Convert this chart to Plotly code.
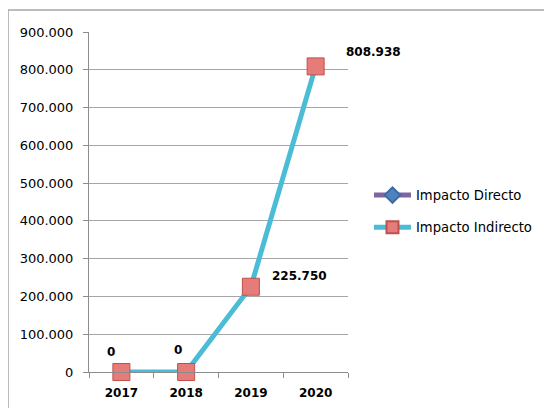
import plotly.graph_objects as go

years = ["2017", "2018", "2019", "2020"]
impacto_directo = [None, None, None, None]
impacto_indirecto = [0, 0, 225750, 808938]
# label offsets (px) relative to each point
label_dx = [-10, -8, 19, 28]
label_dy = [20, 22, 11, 14]


def fmt(v):
    return f"{v:,}".replace(",", ".")


FONT = "DejaVu Sans"

fig = go.Figure()
fig.add_trace(go.Scatter(
    x=years, y=impacto_directo, name="Impacto Directo", mode="lines+markers",
    legendgroup="a",
    line=dict(color="#8064A2", width=5),
    marker=dict(symbol="diamond", size=10, color="#4F81BD", line=dict(color="#3A6AA8", width=1)),
))
fig.add_trace(go.Scatter(
    x=years, y=impacto_indirecto, name="Impacto Indirecto", mode="lines+markers",
    legendgroup="b", cliponaxis=False,
    line=dict(color="#4BBCD6", width=5),
    marker=dict(symbol="square", size=17, color="#E57C7A", line=dict(color="#C0504D", width=1)),
))

# category axis: annotations use the category index
for i, (y, dx, dy) in enumerate(zip(impacto_indirecto, label_dx, label_dy)):
    fig.add_annotation(
        x=i, y=y, text=fmt(y), showarrow=False,
        xanchor="center" if dx < 0 else "left", yanchor="middle",
        xshift=dx, yshift=dy,
        font=dict(family=FONT, size=12, color="#000000", weight="bold"),
    )

fig.update_layout(
    width=552, height=408,
    separators=",.",
    paper_bgcolor="#ffffff", plot_bgcolor="#ffffff",
    margin=dict(l=81, r=212, t=24, b=44),
    font=dict(family=FONT, size=13, color="#000000"),
    showlegend=True,
    legend=dict(x=1.081, y=0.472, xanchor="left", yanchor="middle",
                font=dict(size=13.2), itemwidth=37, tracegroupgap=12,
                itemsizing="constant", bgcolor="rgba(0,0,0,0)"),
    shapes=[dict(type="rect", xref="paper", yref="paper",
                 x0=-0.3127, x1=1.78, y0=-0.2, y1=1.0647,
                 line=dict(color="#A6A6A6", width=1.5), layer="below")],
)
fig.update_xaxes(type="category", range=[-0.5, len(years) - 0.5],
                 showline=True, linecolor="#8C8C8C", linewidth=1,
                 ticks="outside", tickson="boundaries", ticklen=5, tickcolor="#8C8C8C",
                 tickfont=dict(size=12, family=FONT, color="#000000", weight="bold"),
                 ticklabelstandoff=10, showgrid=False)
fig.update_yaxes(range=[0, 900000], dtick=100000, tickformat=",d",
                 showline=True, linecolor="#8C8C8C", linewidth=1,
                 ticks="outside", ticklen=5, tickcolor="#8C8C8C",
                 tickfont=dict(size=13, family=FONT, color="#000000"),
                 ticklabelstandoff=7,
                 showgrid=True, gridcolor="#A6A6A6", gridwidth=1, zeroline=False)

fig.write_html("out.html")
